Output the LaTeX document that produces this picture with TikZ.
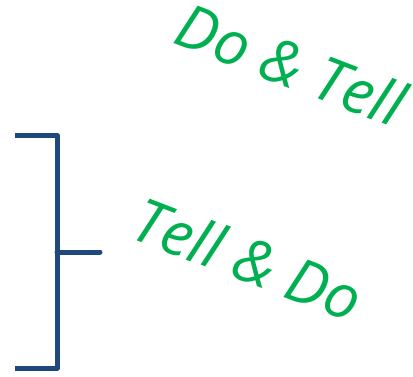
\documentclass[tikz,border=0pt]{standalone}
\usepackage{fontspec}
\setmainfont{Open Sans}
\usepackage{tikz}
\usetikzlibrary{positioning,calc}
\definecolor{brk}{HTML}{1F497D}
\definecolor{grn}{HTML}{00B050}

\begin{document}
\begin{tikzpicture}[x=1pt,y=-1pt,
  brace/.style={draw=brk,line width=5pt,line join=round,line cap=round},
  order/.style={text=grn,rotate=-21,font=\fontsize{61}{68}\selectfont\itshape,inner sep=0pt}]
  \useasboundingbox (0,0) rectangle (413,376);
  \coordinate (T0) at (15,135);
  \coordinate (T1) at (57,135);
  \coordinate (B0) at (15,368);
  \coordinate (B1) at (57,368);
  \coordinate (M0) at (57,252);
  \coordinate (M1) at (100,252);
  \draw[brace,line cap=butt] (T0) -- (T1) -- (B1) -- (B0);
  \draw[brace] (M0) -- (M1);
  \node[order] (DT) at (291,64) {Do \& Tell};
  \node[order] (TD) at (248,259) {Tell \& Do};
\end{tikzpicture}
\end{document}
